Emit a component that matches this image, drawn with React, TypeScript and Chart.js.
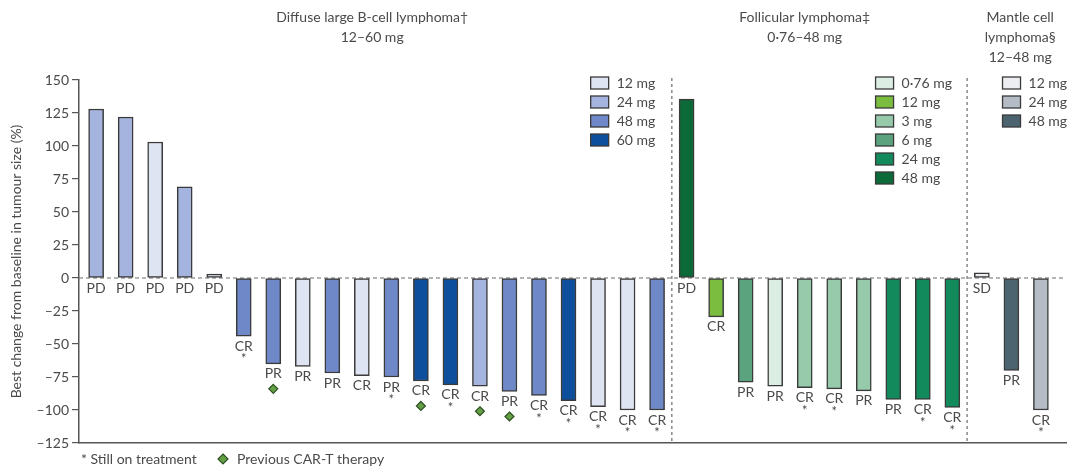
import React, { useEffect, useRef } from "react";
import { Chart, registerables } from "chart.js";

Chart.register(...registerables);

// ---- data ----
const groupNames = ["DLBCL", "FL", "MCL"];
const groupTitles = [
  ["Diffuse large B-cell lymphoma†", "12–60 mg"],
  ["Follicular lymphoma‡", "0·76–48 mg"],
  ["Mantle cell", "lymphoma§", "12–48 mg"],
];
const groupOf = [
  "DLBCL", "DLBCL", "DLBCL", "DLBCL", "DLBCL", "DLBCL", "DLBCL", "DLBCL", "DLBCL", "DLBCL",
  "DLBCL", "DLBCL", "DLBCL", "DLBCL", "DLBCL", "DLBCL", "DLBCL", "DLBCL", "DLBCL", "DLBCL",
  "FL", "FL", "FL", "FL", "FL", "FL", "FL", "FL", "FL", "FL",
  "MCL", "MCL", "MCL",
];
const bestChange = [
  128, 122, 103, 69, 3, -44, -65, -67, -72, -74,
  -75, -78, -81, -82, -86, -89, -93, -97.5, -100, -100,
  135.5, -29.5, -79, -82, -83, -84, -85.5, -92, -92, -98,
  4, -70, -100,
];
const doses = [
  "24 mg", "24 mg", "12 mg", "24 mg", "12 mg", "48 mg", "48 mg", "12 mg", "48 mg", "12 mg",
  "48 mg", "60 mg", "60 mg", "24 mg", "48 mg", "48 mg", "60 mg", "12 mg", "12 mg", "48 mg",
  "48 mg", "12 mg", "6 mg", "0·76 mg", "3 mg", "3 mg", "3 mg", "24 mg", "24 mg", "24 mg",
  "12 mg", "48 mg", "24 mg",
];
const responses = [
  "PD", "PD", "PD", "PD", "PD", "CR", "PR", "PR", "PR", "CR",
  "PR", "CR", "CR", "CR", "PR", "CR", "CR", "CR", "CR", "CR",
  "PD", "CR", "PR", "PR", "CR", "CR", "PR", "PR", "CR", "CR",
  "SD", "PR", "CR",
];
const stillOnTreatment = [
  false, false, false, false, false, true, false, false, false, false,
  true, false, true, false, false, true, true, true, true, true,
  false, false, false, false, true, true, false, false, true, true,
  false, false, true,
];
const previousCART = [
  false, false, false, false, false, false, true, false, false, false,
  false, true, false, true, true, false, false, false, false, false,
  false, false, false, false, false, false, false, false, false, false,
  false, false, false,
];
const dlbclLegend = ["12 mg", "24 mg", "48 mg", "60 mg"];
const dlbclColors = ["#dfe4f3", "#a5b4de", "#6f88c7", "#0d4f9c"];
const flLegend = ["0·76 mg", "12 mg", "3 mg", "6 mg", "24 mg", "48 mg"];
const flColors = ["#dcede4", "#7bbd3e", "#97c9ab", "#5ba27e", "#138a5c", "#0b6a38"];
const mclLegend = ["12 mg", "24 mg", "48 mg"];
const mclColors = ["#eceef2", "#b5bcc6", "#4c6470"];
const yTicks = [-125, -100, -75, -50, -25, 0, 25, 50, 75, 100, 125, 150];
const yTitle = "Best change from baseline in tumour size (%)";
const footStill = "* Still on treatment";
const footCART = "Previous CAR-T therapy";

const FONT = "Lato, 'Open Sans', sans-serif";
const TEXT = "#4a4a4a";
const EDGE = "#3a3a3a";

const legendSets: Record<string, [string[], string[]]> = {
  DLBCL: [dlbclLegend, dlbclColors],
  FL: [flLegend, flColors],
  MCL: [mclLegend, mclColors],
};

function colorFor(i: number) {
  const [labels, colors] = legendSets[groupOf[i]];
  return colors[labels.indexOf(doses[i])];
}

function drawDiamond(ctx: CanvasRenderingContext2D, x: number, y: number, r: number) {
  ctx.save();
  ctx.beginPath();
  ctx.moveTo(x, y - r);
  ctx.lineTo(x + r, y);
  ctx.lineTo(x, y + r);
  ctx.lineTo(x - r, y);
  ctx.closePath();
  ctx.fillStyle = "#63a043";
  ctx.fill();
  ctx.lineWidth = 1.2;
  ctx.strokeStyle = "#2f4f25";
  ctx.stroke();
  ctx.restore();
}

const overlayPlugin = {
  id: "overlay",
  beforeDatasetsDraw(chart: any) {
    const { ctx, chartArea, scales } = chart;
    const y0 = scales.y.getPixelForValue(0);
    ctx.save();
    ctx.strokeStyle = "#6a6a6a";
    ctx.lineWidth = 1.2;
    ctx.setLineDash([4, 3]);
    ctx.beginPath();
    ctx.moveTo(chartArea.left, y0);
    ctx.lineTo(chartArea.right, y0);
    ctx.stroke();
    // dividers between groups
    let prev = groupOf[0];
    for (let i = 1; i < groupOf.length; i++) {
      if (groupOf[i] !== prev) {
        const x = scales.x.getPixelForValue(i + 0.5);
        ctx.setLineDash([3, 3]);
        ctx.beginPath();
        ctx.moveTo(x, chartArea.top - 2);
        ctx.lineTo(x, chartArea.bottom);
        ctx.stroke();
        prev = groupOf[i];
      }
    }
    ctx.restore();
  },
  afterDatasetsDraw(chart: any) {
    const { ctx, chartArea, scales } = chart;
    const meta = chart.getDatasetMeta(0);
    const y0 = scales.y.getPixelForValue(0);
    ctx.save();
    ctx.fillStyle = TEXT;
    ctx.textAlign = "center";
    ctx.textBaseline = "middle";
    meta.data.forEach((el: any, i: number) => {
      const v = bestChange[i];
      const base = v >= 0 ? y0 : el.y;
      const ly = base + 10;
      ctx.font = `14px ${FONT}`;
      ctx.fillStyle = TEXT;
      ctx.fillText(responses[i], el.x, ly);
      if (stillOnTreatment[i]) {
        ctx.font = `13px ${FONT}`;
        ctx.fillText("*", el.x, ly + 13);
      }
      if (previousCART[i]) {
        drawDiamond(ctx, el.x, ly + 15, 4.5);
      }
    });

    // legends and group titles
    const legendX: Record<string, number> = {
      DLBCL: scales.x.getPixelForValue(17.75),
      FL: scales.x.getPixelForValue(27.4),
      MCL: scales.x.getPixelForValue(31.7),
    };
    const titleX: Record<string, number> = {
      DLBCL: scales.x.getPixelForValue(10.35),
      FL: scales.x.getPixelForValue(25.0),
      MCL: scales.x.getPixelForValue(32.3),
    };
    groupNames.forEach((g, gi) => {
      const [labels, colors] = legendSets[g];
      const bx = legendX[g];
      labels.forEach((lab, k) => {
        const cy = chartArea.top + 3 + k * 19;
        ctx.fillStyle = colors[k];
        ctx.fillRect(bx, cy - 6, 18, 12);
        ctx.strokeStyle = EDGE;
        ctx.lineWidth = 1.3;
        ctx.strokeRect(bx, cy - 6, 18, 12);
        ctx.fillStyle = TEXT;
        ctx.font = `14px ${FONT}`;
        ctx.textAlign = "left";
        ctx.fillText(lab, bx + 26, cy);
      });
      ctx.textAlign = "center";
      ctx.font = `14px ${FONT}`;
      groupTitles[gi].forEach((line, k) => {
        ctx.fillText(line, titleX[g], 17 + k * 20);
      });
    });

    // footnote
    const fy = chartArea.bottom + 16;
    ctx.textAlign = "left";
    ctx.font = `14px ${FONT}`;
    ctx.fillStyle = TEXT;
    ctx.fillText(footStill, chartArea.left + 2, fy);
    drawDiamond(ctx, chartArea.left + 144, fy, 5);
    ctx.fillStyle = TEXT;
    ctx.fillText(footCART, chartArea.left + 158, fy);
    ctx.restore();
  },
};

export default function App() {
  const ref = useRef<HTMLCanvasElement | null>(null);
  useEffect(() => {
    if (!ref.current) return;
    const chart = new Chart(ref.current, {
      type: "bar",
      data: {
        datasets: [
          {
            data: bestChange.map((v, i) => ({ x: i + 1, y: v })),
            backgroundColor: bestChange.map((_, i) => colorFor(i)),
            borderColor: EDGE,
            borderWidth: 1.5,
            borderSkipped: false,
            barThickness: 15,
          },
        ],
      },
      options: {
        animation: false,
        responsive: true,
        maintainAspectRatio: false,
        layout: { padding: { left: 0, right: 2, top: 80, bottom: 28 } },
        plugins: { legend: { display: false }, tooltip: { enabled: false } },
        scales: {
          x: {
            type: "linear",
            offset: false,
            min: 0.42,
            max: 33.85,
            ticks: { display: false },
            grid: { display: false, drawTicks: false },
            border: { display: true, color: "#555", width: 1.5 },
          },
          y: {
            min: -125,
            max: 150,
            afterFit: (s: any) => {
              s.width = 79;
            },
            afterBuildTicks: (s: any) => {
              s.ticks = yTicks.map((v) => ({ value: v }));
            },
            ticks: {
              font: { family: FONT, size: 14 },
              color: TEXT,
              padding: 3,
              callback: (v: any) => (Number(v) < 0 ? "–" + Math.abs(Number(v)) : String(v)),
            },
            grid: { drawOnChartArea: false, drawTicks: true, tickLength: 7, color: "#555", lineWidth: 1.2 },
            border: { display: true, color: "#555", width: 1.5 },
            title: {
              display: true,
              text: yTitle,
              font: { family: FONT, size: 14 },
              color: TEXT,
              padding: { top: 8, bottom: 4 },
            },
          },
        },
      },
      plugins: [overlayPlugin],
    } as any);
    return () => chart.destroy();
  }, []);
  return (
    <div style={{ position: "fixed", left: 0, top: 0, width: 1068, height: 471, background: "#fff" }}>
      <canvas ref={ref} />
    </div>
  );
}
